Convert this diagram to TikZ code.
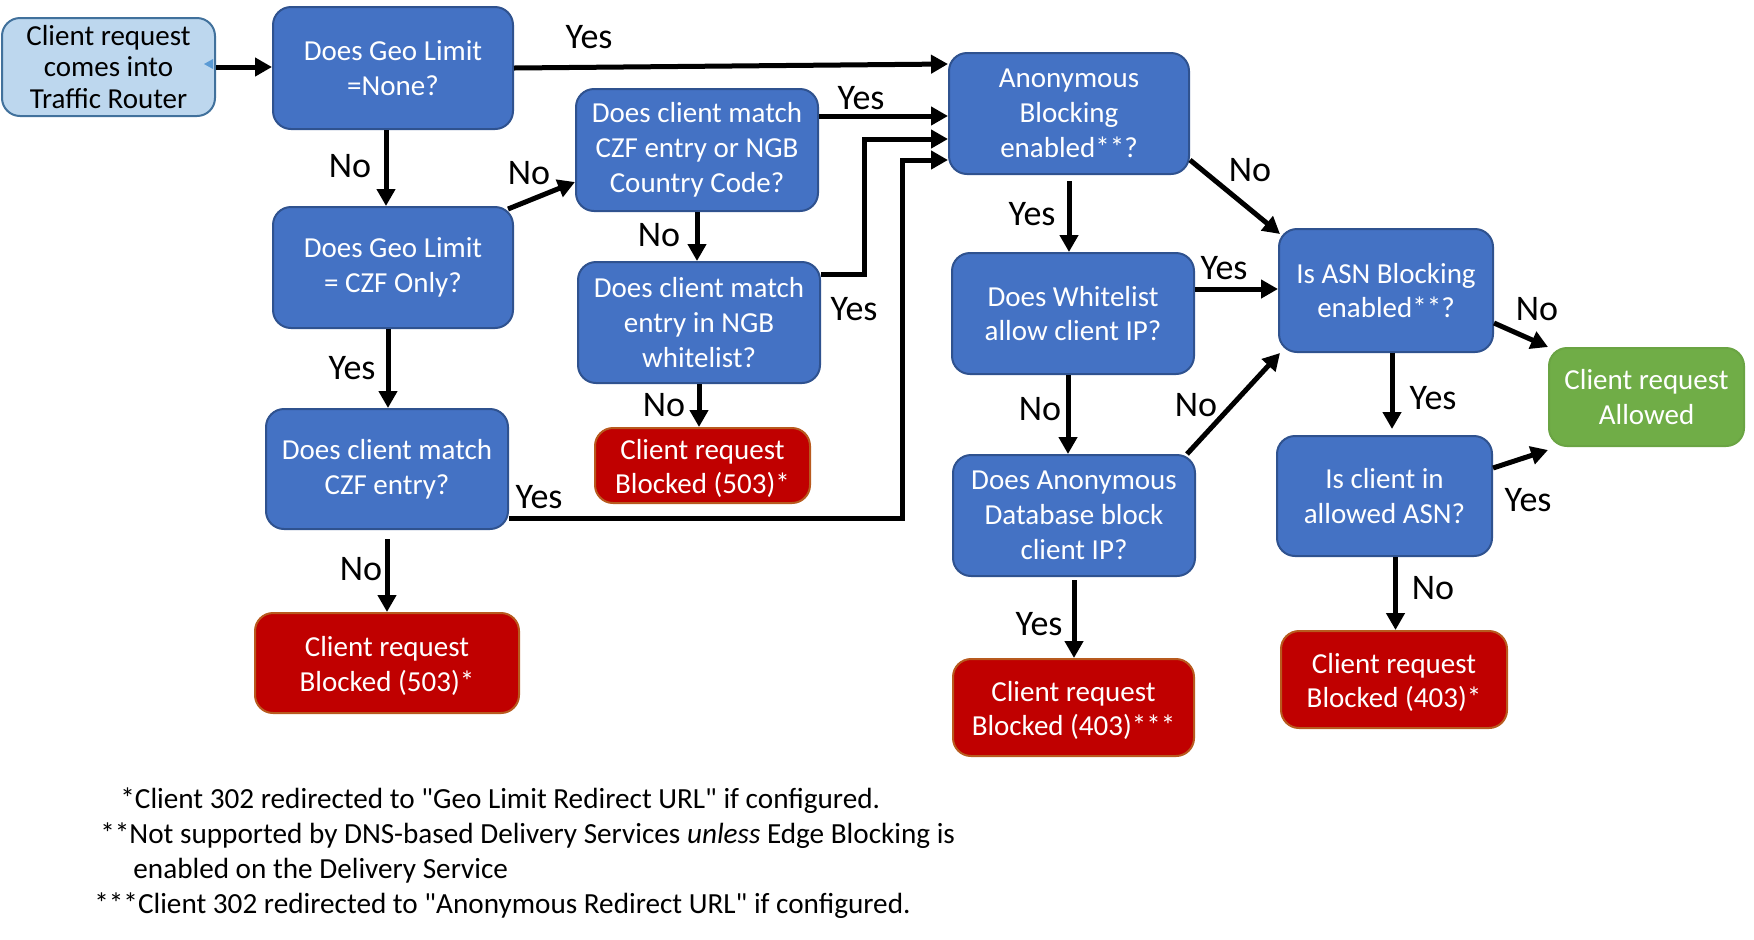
\documentclass[tikz,border=0pt]{standalone}
\usepackage{fontspec}
\setmainfont{Carlito}[Ligatures=TeXOff]
\usetikzlibrary{arrows.meta}
\definecolor{qblue}{HTML}{4472C4}
\definecolor{qblueb}{HTML}{2F528F}
\definecolor{qlight}{HTML}{BDD7EE}
\definecolor{qlightb}{HTML}{41719C}
\definecolor{qred}{HTML}{C00000}
\definecolor{qredb}{HTML}{B85A1E}
\definecolor{qgreen}{HTML}{70AD47}
\definecolor{qgreenb}{HTML}{6AA443}
\definecolor{qmark}{HTML}{5B9BD5}
\newcommand\mkbox[7]{\node[#6, minimum width=#4*0.5pt, minimum height=#5*0.5pt] (#1) at (#2,#3) {#7};}
\begin{document}
\begin{tikzpicture}[x=0.5pt,y=-0.5pt,
  base/.style={draw, line width=1pt, rounded corners=9pt, align=center, inner sep=0pt,
    font=\fontsize{14.5}{17.4}\selectfont},
  qbox/.style={base, fill=qblue, draw=qblueb, text=white},
  sbox/.style={base, fill=qlight, draw=qlightb, text=black, font=\fontsize{14.5}{15.7}\selectfont},
  rbox/.style={base, fill=qred, draw=qredb, text=white},
  gbox/.style={base, fill=qgreen, draw=qgreenb, text=white},
  arr/.style={line width=2.5pt, -{Triangle[length=8.5pt,width=9pt]}},
  lab/.style={font=\fontsize{18}{20}\selectfont, inner sep=0pt},
  note/.style={font=\fontsize{14.6}{17}\selectfont, inner sep=0pt, anchor=west}]
\useasboundingbox (0,0) rectangle (1754,939);

% nodes
\mkbox{start}{108.5}{67}{213}{98}{sbox}{Client request\\comes into\\Traffic Router}
\mkbox{geoNone}{393}{68}{240}{122}{qbox}{Does Geo Limit\\=None?}
\mkbox{geoCZF}{393}{267.5}{240}{121}{qbox}{Does Geo Limit\\= CZF Only?}
\mkbox{czf}{387}{469}{242}{120}{qbox}{Does client match\\CZF entry?}
\mkbox{bl}{387}{663}{264}{100}{rbox}{\rule{0pt}{13pt}Client request\\Blocked (503)*}
\mkbox{czfngb}{697}{150}{242}{122}{qbox}{Does client match\\CZF entry or NGB\\Country Code?}
\mkbox{ngb}{699}{322.5}{242}{121}{qbox}{Does client match\\entry in NGB\\whitelist?}
\mkbox{bm}{702.5}{465.5}{215}{75}{rbox}{\rule{0pt}{13pt}Client request\\Blocked (503)*}
\mkbox{anon}{1069}{113.5}{240}{121}{qbox}{Anonymous\\Blocking\\enabled**?}
\mkbox{wl}{1073}{313.5}{242}{121}{qbox}{Does Whitelist\\allow client IP?}
\mkbox{adb}{1074}{515.5}{242}{121}{qbox}{Does Anonymous\\Database block\\client IP?}
\mkbox{ba}{1073.5}{707.5}{241}{97}{rbox}{\rule{0pt}{13pt}Client request\\Blocked (403)***}
\mkbox{asn}{1386}{290.5}{214}{123}{qbox}{Is ASN Blocking\\enabled**?}
\mkbox{allowed}{1646.5}{397}{195}{98}{gbox}{Client request\\Allowed}
\mkbox{inasn}{1384.5}{496}{215}{120}{qbox}{Is client in\\allowed ASN?}
\mkbox{bb}{1394}{679.5}{226}{97}{rbox}{\rule{0pt}{13pt}Client request\\Blocked (403)*}

% small mark on the start box
\fill[qmark] (204,64) -- (213,59) -- (213,69) -- cycle;

% helper coordinates
\coordinate (k7) at (902,0);
\coordinate (k10) at (864,0);
\coordinate (c7a) at ([yshift=-24.5pt]czf.east);
\coordinate (c7b) at ([yshift=-23.25pt]anon.west);
\coordinate (c8) at ([yshift=17pt]czfngb.east);
\coordinate (c10a) at ([yshift=24.25pt]ngb.east);
\coordinate (c10b) at ([yshift=-12.75pt]anon.west);
\coordinate (c3) at ([xshift=-3.5pt]geoNone.south);
\coordinate (c5) at ([xshift=-2.5pt]geoCZF.south);
\coordinate (c13) at ([yshift=-3pt]anon.south);
\coordinate (c14) at ([yshift=12.25pt]wl.east);
\coordinate (c15) at ([xshift=-2.5pt]wl.south);
\coordinate (c19) at ([xshift=3pt]asn.south);
\coordinate (c21) at ([xshift=5.5pt]inasn.south);

% connectors
\draw[arr] (start.east) -- (start.east -| geoNone.west);
\draw[arr] (geoNone.east) -- ([yshift=24.75pt]anon.west);
\draw[arr] (c3) -- (c3 |- geoCZF.north);
\draw[arr] ([xshift=-3pt,yshift=-1.5pt]geoCZF.north east) -- ([yshift=-16pt]czfngb.west);
\draw[arr] (c5) -- (c5 |- czf.north);
\draw[arr] ([yshift=-4.5pt]czf.south) -- (bl.north);
\draw[arr] (c7a) -| (k7 |- c7b) -- (c7b);
\draw[arr] (c8) -- (c8 -| anon.west);
\draw[arr] (czfngb.south) -- (czfngb.south |- ngb.north);
\draw[arr] (c10a) -| (k10 |- c10b) -- (c10b);
\draw[arr] (ngb.south) -- (ngb.south |- bm.north);
\draw[arr] ([yshift=-23.25pt]anon.east) -- ([xshift=1pt,yshift=-3pt]asn.north west);
\draw[arr] (c13) -- (c13 |- wl.north);
\draw[arr] (c14) -- (c14 -| asn.west);
\draw[arr] (c15) -- (c15 |- adb.north);
\draw[arr] ([xshift=-4.5pt]adb.north east) -- ([xshift=1pt]asn.south west);
\draw[arr] ([yshift=-1.5pt]adb.south) -- (adb.south |- ba.north);
\draw[arr] ([yshift=-16.25pt]asn.east) -- (allowed.north west);
\draw[arr, shorten >=3pt] (c19) -- (c19 |- inasn.north);
\draw[arr] ([yshift=14pt]inasn.east) -- ([yshift=-1.5pt]allowed.south west);
\draw[arr] (c21) -- (c21 |- bb.north);

% connector labels
\node[lab] (l2) at (589,37) {Yes};
\node[lab] (l3) at (350,166) {No};
\node[lab] (l4) at (529,173) {No};
\node[lab] (l5) at (352,368) {Yes};
\node[lab] (l6) at (361,569) {No};
\node[lab] (l7) at (539,497) {Yes};
\node[lab] (l8) at (861,98) {Yes};
\node[lab] (l9) at (659,235) {No};
\node[lab] (l10) at (854,309) {Yes};
\node[lab] (l11) at (664,405) {No};
\node[lab] (l12) at (1250,170) {No};
\node[lab] (l13) at (1032,214) {Yes};
\node[lab] (l14) at (1224,268) {Yes};
\node[lab] (l15) at (1040,409) {No};
\node[lab] (l16) at (1196,405) {No};
\node[lab] (l17) at (1039,624) {Yes};
\node[lab] (l18) at (1537,309) {No};
\node[lab] (l19) at (1433,398) {Yes};
\node[lab] (l20) at (1528,500) {Yes};
\node[lab] (l21) at (1433,588) {No};

% footnotes
\node[note] (n1) at (120,801) {*Client 302 redirected to "Geo Limit Redirect URL" if configured.};
\node[note] (n2) at (100,836) {**Not supported by DNS-based Delivery Services \textit{unless} Edge Blocking is};
\node[note] (n3) at (133,871) {enabled on the Delivery Service};
\node[note] (n4) at (94,906) {***Client 302 redirected to "Anonymous Redirect URL" if configured.};
\end{tikzpicture}
\end{document}
